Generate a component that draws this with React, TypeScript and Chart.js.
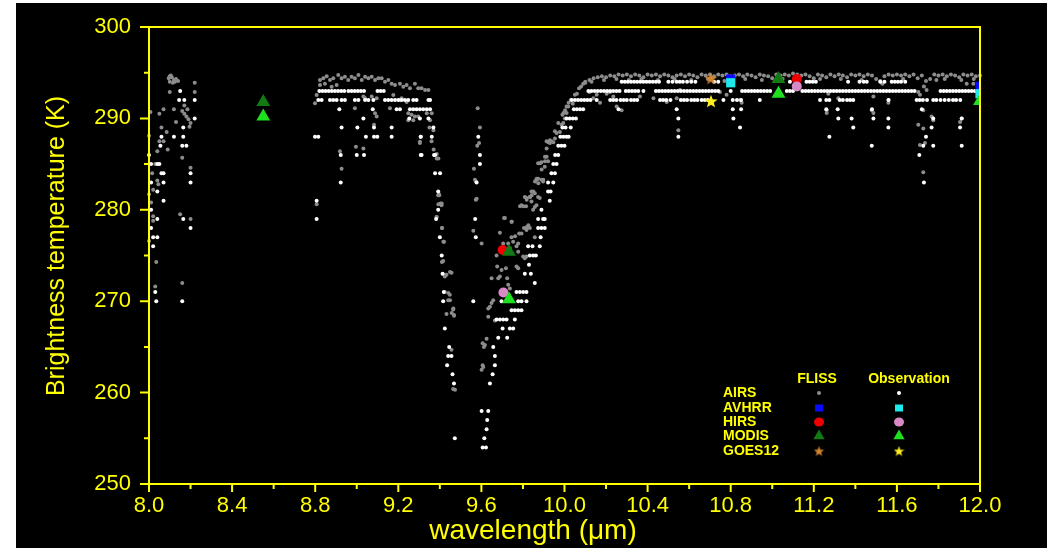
import React, { useEffect, useRef } from "react";
import { Chart, registerables } from "chart.js";

Chart.register(...registerables);

const FONT = "'Liberation Sans', Arial, Helvetica, sans-serif";
const YELLOW = "#ffff00";

const X_MIN = 8.0;
const X_MAX = 12.0;
const Y_MIN = 250;
const Y_MAX = 300;
const xMajorTicks = [8.0, 8.4, 8.8, 9.2, 9.6, 10.0, 10.4, 10.8, 11.2, 11.6, 12.0];
const xMinorTicks = [8.2, 8.6, 9.0, 9.4, 9.8, 10.2, 10.6, 11.0, 11.4, 11.8];
const yMajorTicks = [250, 260, 270, 280, 290, 300];
const yMinorTicks = [255, 265, 275, 285, 295];
const xAxisTitle = "wavelength (\u03bcm)";
const yAxisTitle = "Brightness temperature (K)";
const legendColumns = ["FLISS", "Observation"];
const legendRows = ["AIRS", "AVHRR", "HIRS", "MODIS", "GOES12"];

// ---------- AIRS FLISS simulation (grey dots): [wavelength (µm), BT (K)] ----------
const airsFlissNear8: [number, number][] = [
  [8.095, 294.4], [8.1, 294.6], [8.105, 294.7], [8.11, 294.5], [8.12, 294.2], [8.13, 294.3],
  [8.1, 294.0], [8.115, 293.9], [8.125, 294.0], [8.14, 294.1], [8.22, 293.9], [8.22, 292.9],
  [8.1, 292.9], [8.17, 291.4], [8.185, 291.0], [8.16, 290.8], [8.17, 290.5], [8.18, 290.2],
  [8.19, 289.9], [8.2, 289.5], [8.195, 289.1], [8.007, 290.7], [8.05, 290.5], [8.07, 291.0],
  [8.12, 291.0], [8.06, 289.0], [8.0, 288.1], [8.05, 287.5], [8.07, 287.5], [8.09, 286.6],
  [8.04, 286.4], [8.16, 285.7], [8.2, 284.6], [8.04, 283.2], [8.02, 282.2], [8.0, 281.7],
  [8.02, 279.3], [8.02, 278.8], [8.15, 279.5], [8.2, 279.0], [8.0, 276.6], [8.035, 274.3],
  [8.03, 271.6], [8.16, 272.0], [8.085, 288.5], [8.03, 285.0], [8.13, 289.6], [8.015, 284.0],
  [8.01, 280.8], [8.045, 282.8],
];

const airsFlissBand: [number, number][] = [
  [8.823, 294.2], [8.839, 294.4], [8.855, 294.6], [8.871, 294.2], [8.887, 294.4], [8.911, 294.75],
  [8.927, 294.4], [8.943, 294.56], [8.959, 294.2], [8.975, 294.56], [8.991, 294.38], [9.008, 294.75],
  [9.024, 294.2], [9.04, 294.56], [9.056, 294.38], [9.072, 294.56], [9.088, 294.2], [9.104, 294.38],
  [9.12, 294.38], [9.136, 294.0], [9.152, 294.2], [9.168, 293.8], [9.184, 293.65], [9.208, 293.8],
  [9.224, 293.47], [9.24, 293.65], [9.256, 293.29], [9.28, 293.8], [9.296, 293.29], [9.312, 293.29],
  [9.329, 293.1], [9.345, 293.1], [8.823, 293.65], [8.847, 293.8], [8.879, 293.47], [8.903, 293.65],
  [8.807, 292.56], [8.799, 291.65], [9.032, 292.4], [9.04, 292.2], [9.072, 292.4], [9.096, 292.2],
  [9.176, 292.56], [9.208, 292.0], [9.216, 292.2], [9.24, 291.8], [9.16, 291.1], [8.991, 291.1],
  [9.088, 290.55], [9.096, 290.2], [9.248, 290.55], [9.264, 290.4], [9.28, 290.2], [9.296, 290.2],
  [9.337, 290.55], [9.361, 290.55], [9.248, 289.8], [9.272, 289.8], [9.353, 289.8], [9.369, 288.7],
  [9.083, 289.3], [8.996, 286.9], [9.032, 286.7], [9.304, 287.45], [8.919, 286.4], [8.927, 284.5],
  [8.807, 280.6], [9.385, 286.1], [9.393, 285.6], [9.397, 281.6], [9.409, 280.7], [9.385, 279.2],
  [9.35, 289.0], [9.36, 287.5], [9.37, 286.6],
];

const airsFlissDip: [number, number][] = [
  [9.304, 287.3], [9.385, 285.6], [9.396, 281.7], [9.393, 280.6], [9.41, 278.0], [9.417, 276.5],
  [9.41, 274.3], [9.449, 273.2], [9.425, 272.9], [9.441, 270.9], [9.449, 270.1], [9.465, 269.2],
  [9.457, 268.7], [9.468, 268.4], [9.473, 260.3], [9.392, 281.6], [9.403, 280.7], [9.408, 280.5],
  [9.384, 279.2], [9.411, 278.0], [9.42, 276.5], [9.416, 274.4], [9.456, 273.1], [9.432, 272.9],
  [9.424, 272.7], [9.424, 271.0], [9.448, 270.7], [9.44, 270.1], [9.464, 269.1], [9.432, 268.6],
  [9.468, 268.5], [9.456, 264.7], [9.464, 260.4],
  [9.582, 291.1], [9.593, 289.0], [9.589, 287.3], [9.58, 287.0], [9.564, 284.5], [9.574, 283.1],
  [9.577, 281.2], [9.561, 277.7], [9.601, 276.3], [9.569, 283.3], [9.573, 281.1],
  [9.873, 285.1], [9.889, 285.2], [9.905, 284.7], [9.921, 285.3], [9.865, 283.3], [9.873, 283.4],
  [9.889, 283.3], [9.897, 283.1], [9.857, 281.8], [9.841, 282.0], [9.873, 281.4], [9.881, 281.3],
  [9.793, 280.5], [9.809, 281.4], [9.817, 281.3], [9.833, 281.4], [9.841, 280.9], [9.849, 280.0],
  [9.857, 280.3], [9.865, 280.5], [9.782, 277.4], [9.793, 277.4], [9.805, 278.0], [9.817, 277.8],
  [9.833, 278.0], [9.857, 277.0], [9.705, 276.3], [9.729, 276.3], [9.745, 277.0], [9.753, 276.5],
  [9.769, 276.0], [9.777, 276.3], [9.689, 277.5], [9.713, 279.1], [9.745, 278.7], [9.673, 275.0],
  [9.801, 274.9], [9.809, 274.7], [9.817, 274.9], [9.676, 273.8], [9.697, 273.4], [9.718, 273.6],
  [9.649, 272.5], [9.681, 272.5], [9.689, 272.7], [9.724, 272.5], [9.729, 271.8], [9.737, 271.4],
  [9.769, 273.8], [9.777, 273.6], [9.633, 269.2], [9.641, 269.4], [9.649, 269.8], [9.657, 270.1],
  [9.665, 267.9], [9.633, 268.3], [9.625, 265.9], [9.606, 265.4], [9.617, 265.2], [9.612, 265.0],
  [9.609, 262.8], [9.601, 262.5], [9.606, 263.0], [9.737, 275.8], [9.777, 275.4],
  [10.018, 291.3], [10.01, 290.6], [10.002, 290.0], [9.994, 289.5], [9.986, 289.3], [9.978, 288.5],
  [9.962, 288.4], [9.954, 287.8], [9.938, 287.5], [9.93, 287.3], [9.922, 287.4], [9.914, 287.5],
  [9.914, 285.8], [9.906, 285.3], [9.882, 285.1], [9.866, 283.4], [9.858, 283.1], [9.898, 283.3],
  [9.874, 282.9], [9.85, 282.0], [9.842, 281.6], [9.834, 281.4], [9.818, 281.1], [9.802, 280.4],
  [9.815, 280.4], [9.786, 280.4], [9.818, 278.1], [9.826, 278.3], [9.709, 279.1], [9.746, 278.7],
  [9.762, 277.1], [9.89, 284.4], [9.906, 285.8], [9.914, 286.7], [9.93, 287.6], [9.946, 287.4],
  [9.954, 288.6], [9.97, 289.5], [9.99, 290.4], [9.995, 290.6], [10.01, 291.3], [10.003, 290.9],
  [10.03, 292.0], [10.02, 291.7], [10.05, 292.6], [10.06, 292.7], [10.07, 293.3], [10.08, 293.5],
  [10.09, 293.8], [10.1, 294.0],
];

const airsFlissWindow: [number, number][] = [
  [10.1, 293.9], [10.12, 294.2], [10.14, 294.4], [10.16, 294.5], [10.18, 294.6], [10.2, 294.5],
  [10.22, 294.7], [10.24, 294.6], [10.26, 294.8], [10.28, 294.7], [10.3, 294.8], [10.32, 294.6],
  [10.34, 294.8], [10.36, 294.7], [10.38, 294.5], [10.4, 294.8], [10.42, 294.7], [10.44, 294.8],
  [10.46, 294.6], [10.48, 294.8], [10.5, 294.7], [10.52, 294.5], [10.54, 294.7], [10.56, 294.8],
  [10.58, 294.6], [10.6, 294.8], [10.62, 294.7], [10.64, 294.5], [10.66, 294.8], [10.68, 294.7],
  [10.7, 294.8], [10.72, 294.6], [10.74, 294.8], [10.76, 294.7], [10.78, 294.8], [10.8, 294.6],
  [10.82, 294.7], [10.84, 294.8], [10.86, 294.6], [10.88, 294.8], [10.9, 294.7], [10.92, 294.5],
  [10.94, 294.8], [10.96, 294.7], [10.98, 294.6], [11.0, 294.4], [11.02, 294.8], [11.04, 294.7],
  [11.06, 294.8], [11.08, 294.7], [11.1, 294.9], [11.12, 294.8], [11.14, 294.7], [11.16, 294.8],
  [11.18, 294.6], [11.2, 294.4], [11.22, 294.8], [11.24, 294.7], [11.26, 294.5], [11.28, 294.8],
  [11.3, 294.6], [11.32, 294.8], [11.34, 294.7], [11.36, 294.5], [11.38, 294.8], [11.4, 294.7],
  [11.42, 294.8], [11.44, 294.6], [11.46, 294.8], [11.48, 294.7], [11.5, 294.3], [11.52, 294.1],
  [11.54, 294.6], [11.56, 294.8], [11.58, 294.7], [11.6, 294.8], [11.62, 294.7], [11.64, 294.8],
  [11.66, 294.6], [11.68, 294.8], [11.7, 294.4], [11.72, 294.7], [11.74, 294.1], [11.76, 294.3],
  [11.78, 294.8], [11.8, 294.7], [11.82, 294.8], [11.84, 294.6], [11.86, 294.8], [11.88, 294.7],
  [11.9, 294.5], [11.92, 294.8], [11.94, 294.7], [11.96, 294.8], [11.98, 294.6], [12.0, 294.7],
  [10.13, 294.0], [10.19, 294.2], [10.25, 294.3], [10.31, 294.2], [10.37, 294.3], [10.45, 294.2],
  [10.53, 294.3], [10.61, 294.2], [10.69, 294.3], [10.77, 294.1], [10.87, 294.3], [10.95, 294.2],
  [11.05, 294.3], [11.13, 294.2], [11.23, 294.3], [11.33, 294.3], [11.43, 294.2], [11.53, 293.8],
  [11.63, 294.3], [11.73, 293.5], [11.79, 294.2], [11.83, 294.3], [11.91, 294.2], [11.97, 294.3],
  [10.04, 291.6], [10.12, 292.9], [10.139, 292.2], [10.155, 292.6], [10.171, 291.7], [10.203, 292.7],
  [10.219, 292.9], [10.235, 292.4], [10.251, 291.3], [10.275, 290.9], [10.363, 292.4], [10.428, 292.2],
  [10.492, 291.8], [10.54, 292.2], [10.556, 293.1], [10.748, 292.9], [10.78, 292.6], [10.845, 292.0],
  [10.853, 291.7], [10.548, 288.7], [11.262, 290.9], [11.262, 290.6], [11.318, 292.2], [11.487, 292.4],
  [11.559, 291.7], [11.711, 292.6], [11.727, 290.9], [11.767, 290.2], [11.775, 289.8], [11.904, 289.6],
  [11.912, 290.0], [11.703, 289.3], [11.727, 288.9], [11.711, 287.1], [11.735, 287.3], [11.727, 284.1],
  [11.703, 292.9], [11.743, 293.1], [11.968, 293.8], [11.936, 293.8], [11.27, 292.7], [11.559, 292.0],
  [11.479, 290.9], [11.487, 290.6],
];

// ---------- AIRS observation (white dots): rows of [BT (K), wavelengths (µm)] ----------
const airsObsNear8: [number, number[]][] = [
  [293, [8.15]], [292, [8.145, 8.17, 8.22]], [290, [8.22]], [289, [8.165]],
  [288, [8.06, 8.12, 8.165]], [287, [8.055, 8.16, 8.18]], [286, [8.0]], [285, [8.01, 8.04, 8.05]],
  [284, [8.06, 8.07, 8.2]], [283, [8.01, 8.07, 8.2]], [282, [8.04]], [281, [8.07]], [280, [8.01]],
  [279, [8.04, 8.165]], [278, [8.01, 8.2]], [277, [8.02, 8.04]], [276, [8.02]], [271, [8.03]],
  [270, [8.035, 8.16]],
];

const airsObsBand: [number, number[]][] = [
  [293, [8.82, 8.835, 8.85, 8.865, 8.88, 8.895, 8.91, 8.925, 8.94, 8.96, 8.975, 8.99, 9.005, 9.02, 9.035, 9.1, 9.115, 9.13]],
  [292, [8.815, 8.831, 8.871, 8.887, 8.903, 8.927, 8.943, 8.991, 9.008, 9.04, 9.056, 9.08, 9.136, 9.152, 9.168, 9.184, 9.2, 9.216, 9.232, 9.248, 9.272, 9.288, 9.345, 9.353]],
  [291, [8.916, 9.077, 9.192, 9.208, 9.256, 9.272, 9.288, 9.304, 9.32, 9.337, 9.353]],
  [290, [9.032, 9.253, 9.304, 9.345]],
  [289, [8.927, 9.003, 9.083, 9.168, 9.369]],
  [288, [8.799, 8.815, 9.044, 9.083, 9.099, 9.168, 9.308, 9.361]],
  [286, [8.923, 9.0, 9.035, 9.308, 9.372]],
  [283, [8.923]], [281, [8.807]], [279, [8.807]],
];

const airsObsDip: [number, number[]][] = [
  [288, [9.308, 9.585]], [286, [9.312, 9.377, 9.593]], [285, [9.593, 9.946, 9.962]],
  [284, [9.377, 9.401, 9.937, 9.954]], [283, [9.577, 9.921, 9.946]], [282, [9.392, 9.921, 9.933]],
  [281, [9.929]], [280, [9.392, 9.889]], [279, [9.382, 9.57, 9.873, 9.897, 9.905]],
  [278, [9.873, 9.889, 9.905]], [277, [9.4, 9.573, 9.885]], [276, [9.825, 9.846, 9.881]],
  [275, [9.409, 9.833, 9.849, 9.862]], [274, [9.829]], [273, [9.413, 9.809, 9.838]], [272, [9.857]],
  [271, [9.419, 9.769, 9.785, 9.801, 9.817]], [270, [9.416, 9.561, 9.697, 9.777, 9.793, 9.817]],
  [269, [9.745, 9.761, 9.777, 9.793]], [268, [9.673, 9.689, 9.705, 9.721, 9.761]],
  [267, [9.424, 9.702, 9.737, 9.753]], [266, [9.681, 9.724]], [265, [9.445, 9.657]],
  [264, [9.44, 9.456, 9.665]], [263, [9.435, 9.665]], [262, [9.461, 9.654]], [261, [9.468, 9.641]],
  [258, [9.601, 9.633]], [257, [9.628]], [256, [9.625]], [255, [9.472, 9.614]], [254, [9.606, 9.622]],
];

const airsObsWindow: [number, number[]][] = [
  [294, [10.275, 10.29, 10.305, 10.32, 10.335, 10.35, 10.365, 10.38, 10.395, 10.41, 10.425, 10.44, 10.455, 10.5, 10.52, 10.54, 10.555, 10.57, 10.59, 10.61, 10.63, 10.72, 10.74, 11.085, 11.165, 11.18, 11.195, 11.21, 11.365, 11.42, 11.44, 11.455, 11.52, 11.54, 11.575, 11.59, 11.605, 11.62, 11.64]],
  [293, [10.115, 10.13, 10.145, 10.16, 10.175, 10.19, 10.205, 10.22, 10.235, 10.25, 10.265, 10.295, 10.31, 10.325, 10.34, 10.355, 10.38, 10.44, 10.455, 10.47, 10.485, 10.5, 10.515, 10.53, 10.545, 10.56, 10.575, 10.59, 10.605, 10.62, 10.635, 10.65, 10.665, 10.68, 10.695, 10.71, 10.725, 10.74, 10.8, 10.855, 10.87, 10.885, 10.9, 10.915, 10.93, 10.945, 10.96, 10.975, 10.99, 11.07, 11.085, 11.1, 11.145, 11.16, 11.175, 11.19, 11.205, 11.22, 11.235, 11.25, 11.265, 11.28, 11.295, 11.31, 11.325, 11.34, 11.355, 11.37, 11.385, 11.4, 11.415, 11.43, 11.445, 11.46, 11.475, 11.49, 11.505, 11.52, 11.535, 11.55, 11.565, 11.58, 11.595, 11.61, 11.625, 11.64, 11.655, 11.67, 11.685, 11.81, 11.825, 11.84, 11.855, 11.87, 11.885, 11.9, 11.915, 11.93, 11.945, 11.96, 11.975]],
  [292, [10.035, 10.05, 10.065, 10.08, 10.095, 10.11, 10.125, 10.155, 10.22, 10.235, 10.25, 10.27, 10.285, 10.3, 10.32, 10.335, 10.35, 10.46, 10.475, 10.49, 10.51, 10.56, 10.575, 10.59, 10.61, 10.625, 10.64, 10.66, 10.675, 10.69, 10.765, 10.81, 10.83, 10.85, 10.94, 11.23, 11.26, 11.275, 11.325, 11.34, 11.36, 11.375, 11.39, 11.56, 11.695, 11.71, 11.725, 11.745, 11.775, 11.79, 11.81, 11.83, 11.85, 11.87, 11.885, 11.905]],
  [291, [10.045, 10.06, 10.075, 10.09, 10.26, 10.54, 10.81, 10.85, 11.26, 11.315, 11.48, 11.72]],
  [290, [10.01, 10.025, 10.04, 10.055, 10.548, 10.813, 11.318, 11.382, 11.487, 11.559, 11.775, 11.912]],
  [289, [9.99, 10.005, 10.03, 10.845, 11.39, 11.559, 11.767, 11.904]],
  [288, [9.98, 9.995, 10.01, 10.02, 10.548, 11.275, 11.74]],
  [287, [9.97, 9.985, 10.0, 11.479, 11.727, 11.775, 11.912]],
  [286, [9.955, 9.97, 11.708]],
  [283, [11.73]],
];

// ---------- Other sensors: [wavelength (µm), BT (K)] ----------
const avhrrFliss: [number, number][] = [[10.8, 294.3], [12.0, 293.5]];
const avhrrObs: [number, number][] = [[10.8, 293.9], [12.0, 292.7]];
const hirsFliss: [number, number][] = [[9.702, 275.6], [11.118, 294.3]];
const hirsObs: [number, number][] = [[9.706, 270.95], [11.118, 293.5]];
const modisFliss: [number, number][] = [[8.55, 291.8], [9.733, 275.4], [11.03, 294.3]];
const modisObs: [number, number][] = [[8.55, 290.2], [9.733, 270.2], [11.03, 292.7], [12.0, 291.9]];
const goesFliss: [number, number][] = [[10.705, 294.4]];
const goesObs: [number, number][] = [[10.705, 291.9]];

const COLORS = {
  airsFliss: "#8c8c8c",
  airsObs: "#ffffff",
  avhrrFliss: "#0a0aff",
  avhrrObs: "#1ee8e8",
  hirsFliss: "#ee0000",
  hirsObs: "#d98ac6",
  modisFliss: "#137a13",
  modisObs: "#1fe01f",
  goesFliss: "#d4842c",
  goesObs: "#ffee22",
};

const pairsToPoints = (pairs: [number, number][]) => pairs.map(([x, y]) => ({ x, y }));
const rowsToPoints = (rows: [number, number[]][]) =>
  rows.flatMap(([t, ws]) => ws.map((w) => ({ x: w, y: t })));

function makeStar(color: string, size: number): HTMLCanvasElement {
  const c = document.createElement("canvas");
  c.width = size;
  c.height = size;
  const g = c.getContext("2d")!;
  const cx = size / 2;
  const cy = size / 2 + size * 0.05;
  const R = size / 2;
  const r = R * 0.42;
  g.beginPath();
  for (let i = 0; i < 10; i++) {
    const ang = -Math.PI / 2 + (i * Math.PI) / 5;
    const rad = i % 2 === 0 ? R : r;
    g.lineTo(cx + rad * Math.cos(ang), cy + rad * Math.sin(ang));
  }
  g.closePath();
  g.fillStyle = color;
  g.fill();
  return c;
}

function drawLegendMarker(ctx: CanvasRenderingContext2D, kind: string, color: string, x: number, y: number, star?: HTMLCanvasElement) {
  ctx.save();
  ctx.fillStyle = color;
  ctx.beginPath();
  if (kind === "dot") {
    ctx.arc(x, y, 2, 0, Math.PI * 2);
    ctx.fill();
  } else if (kind === "square") {
    ctx.fillRect(x - 4, y - 3.5, 8, 7);
  } else if (kind === "circle") {
    ctx.ellipse(x, y, 5, 4.5, 0, 0, Math.PI * 2);
    ctx.fill();
  } else if (kind === "triangle") {
    const r = 6.5;
    ctx.moveTo(x, y - r);
    ctx.lineTo(x + r * 0.866, y + r / 2);
    ctx.lineTo(x - r * 0.866, y + r / 2);
    ctx.closePath();
    ctx.fill();
  } else if (kind === "star" && star) {
    ctx.drawImage(star, x - star.width / 2, y - star.height / 2);
  }
  ctx.restore();
}

export default function App() {
  const canvasRef = useRef<HTMLCanvasElement | null>(null);

  useEffect(() => {
    const canvas = canvasRef.current;
    if (!canvas) return;

    const starGoesFliss = makeStar(COLORS.goesFliss, 13);
    const starGoesObs = makeStar(COLORS.goesObs, 14);
    const starLegendFliss = makeStar(COLORS.goesFliss, 11);
    const starLegendObs = makeStar(COLORS.goesObs, 11);

    const decorPlugin = {
      id: "decor",
      afterDatasetsDraw(chart: any) {
        const { ctx, chartArea: a, scales } = chart;
        const xs = scales.x;
        const ys = scales.y;
        ctx.save();
        // frame
        ctx.strokeStyle = YELLOW;
        ctx.lineWidth = 2;
        ctx.strokeRect(a.left, a.top, a.right - a.left, a.bottom - a.top);
        // tick marks
        ctx.beginPath();
        xMajorTicks.forEach((v) => {
          const p = xs.getPixelForValue(v);
          ctx.moveTo(p, a.bottom);
          ctx.lineTo(p, a.bottom + 8);
        });
        xMinorTicks.forEach((v) => {
          const p = xs.getPixelForValue(v);
          ctx.moveTo(p, a.bottom);
          ctx.lineTo(p, a.bottom + 5);
        });
        yMajorTicks.forEach((v) => {
          const p = ys.getPixelForValue(v);
          ctx.moveTo(a.left, p);
          ctx.lineTo(a.left - 9, p);
        });
        yMinorTicks.forEach((v) => {
          const p = ys.getPixelForValue(v);
          ctx.moveTo(a.left, p);
          ctx.lineTo(a.left - 5, p);
        });
        ctx.stroke();

        // axis titles
        ctx.fillStyle = YELLOW;
        ctx.textBaseline = "middle";
        ctx.textAlign = "center";
        ctx.font = `28px ${FONT}`;
        ctx.fillText(xAxisTitle, a.left + 384, a.bottom + 47);
        ctx.save();
        ctx.translate(a.left - 92, a.top + 219);
        ctx.rotate(-Math.PI / 2);
        ctx.font = `25px ${FONT}`;
        ctx.fillText(yAxisTitle, 0, 0);
        ctx.restore();

        // legend
        const lx = a.left + 574;
        const colF = a.left + 670;
        const colO = a.left + 750;
        const headY = a.top + 352;
        const rowYs = [366, 381, 395, 409, 424].map((d) => a.top + d);
        ctx.font = `bold 14px ${FONT}`;
        ctx.textAlign = "center";
        ctx.fillStyle = YELLOW;
        ctx.fillText(legendColumns[0], a.left + 668, headY);
        ctx.fillText(legendColumns[1], a.left + 760, headY);
        ctx.textAlign = "left";
        legendRows.forEach((name, i) => ctx.fillText(name, lx, rowYs[i]));
        drawLegendMarker(ctx, "dot", COLORS.airsFliss, colF, rowYs[0]);
        drawLegendMarker(ctx, "dot", COLORS.airsObs, colO, rowYs[0]);
        drawLegendMarker(ctx, "square", COLORS.avhrrFliss, colF, rowYs[1]);
        drawLegendMarker(ctx, "square", COLORS.avhrrObs, colO, rowYs[1]);
        drawLegendMarker(ctx, "circle", COLORS.hirsFliss, colF, rowYs[2]);
        drawLegendMarker(ctx, "circle", COLORS.hirsObs, colO, rowYs[2]);
        drawLegendMarker(ctx, "triangle", COLORS.modisFliss, colF, rowYs[3]);
        drawLegendMarker(ctx, "triangle", COLORS.modisObs, colO, rowYs[3]);
        drawLegendMarker(ctx, "star", "", colF, rowYs[4], starLegendFliss);
        drawLegendMarker(ctx, "star", "", colO, rowYs[4], starLegendObs);
        ctx.restore();
      },
    };

    const mk = (label: string, data: any[], color: string, style: any, radius: number, order: number, clip: any) => ({
      label,
      data,
      showLine: false,
      pointStyle: style,
      pointRadius: radius,
      pointHoverRadius: radius,
      pointBackgroundColor: color,
      pointBorderColor: color,
      pointBorderWidth: 0,
      backgroundColor: color,
      borderColor: color,
      order,
      clip,
    });

    const datasets = [
      mk("AIRS FLISS", pairsToPoints([...airsFlissNear8, ...airsFlissBand, ...airsFlissDip, ...airsFlissWindow]), COLORS.airsFliss, "circle", 2, 20, false),
      mk("AIRS Observation", rowsToPoints([...airsObsNear8, ...airsObsBand, ...airsObsDip, ...airsObsWindow]), COLORS.airsObs, "circle", 2, 19, false),
      mk("AVHRR FLISS", pairsToPoints(avhrrFliss), COLORS.avhrrFliss, "rect", 6.5, 18, 0),
      mk("AVHRR Observation", pairsToPoints(avhrrObs), COLORS.avhrrObs, "rect", 6.5, 17, 0),
      mk("HIRS FLISS", pairsToPoints(hirsFliss), COLORS.hirsFliss, "circle", 5, 16, 0),
      mk("HIRS Observation", pairsToPoints(hirsObs), COLORS.hirsObs, "circle", 5, 15, 0),
      mk("MODIS FLISS", pairsToPoints(modisFliss), COLORS.modisFliss, "triangle", 8, 14, 0),
      mk("MODIS Observation", pairsToPoints(modisObs), COLORS.modisObs, "triangle", 8, 13, 0),
      mk("GOES12 FLISS", pairsToPoints(goesFliss), COLORS.goesFliss, starGoesFliss, 7, 12, 0),
      mk("GOES12 Observation", pairsToPoints(goesObs), COLORS.goesObs, starGoesObs, 7, 11, 0),
    ];

    const chart = new Chart(canvas, {
      type: "scatter",
      data: { datasets },
      options: {
        responsive: false,
        animation: false,
        devicePixelRatio: 1,
        layout: { padding: { top: 24, right: 67, left: 0, bottom: 0 } },
        plugins: { legend: { display: false }, tooltip: { enabled: false }, title: { display: false } },
        scales: {
          x: {
            type: "linear",
            position: "bottom",
            min: X_MIN,
            max: X_MAX,
            grid: { display: false, drawTicks: false },
            border: { display: false },
            afterBuildTicks: (s: any) => {
              s.ticks = xMajorTicks.map((v) => ({ value: v }));
            },
            afterFit: (s: any) => {
              s.height = 64;
              s.paddingLeft = 0;
              s.paddingRight = 0;
            },
            ticks: {
              autoSkip: false,
              maxRotation: 0,
              minRotation: 0,
              padding: 9,
              color: YELLOW,
              font: { family: FONT, size: 22 },
              callback: (v: any) => Number(v).toFixed(1),
            },
          },
          y: {
            type: "linear",
            position: "left",
            min: Y_MIN,
            max: Y_MAX,
            grid: { display: false, drawTicks: false },
            border: { display: false },
            afterBuildTicks: (s: any) => {
              s.ticks = yMajorTicks.map((v) => ({ value: v }));
            },
            afterFit: (s: any) => {
              s.width = 133;
              s.paddingTop = 0;
              s.paddingBottom = 0;
            },
            ticks: {
              padding: 18,
              color: YELLOW,
              font: { family: FONT, size: 22 },
              callback: (v: any) => String(v),
            },
          },
        },
      },
      plugins: [decorPlugin],
    });

    return () => chart.destroy();
  }, []);

  return (
    <div style={{ position: "absolute", left: 16, top: 3, width: 1031, height: 545, background: "#000" }}>
      <canvas ref={canvasRef} width={1031} height={545} style={{ display: "block", width: 1031, height: 545 }} />
    </div>
  );
}
